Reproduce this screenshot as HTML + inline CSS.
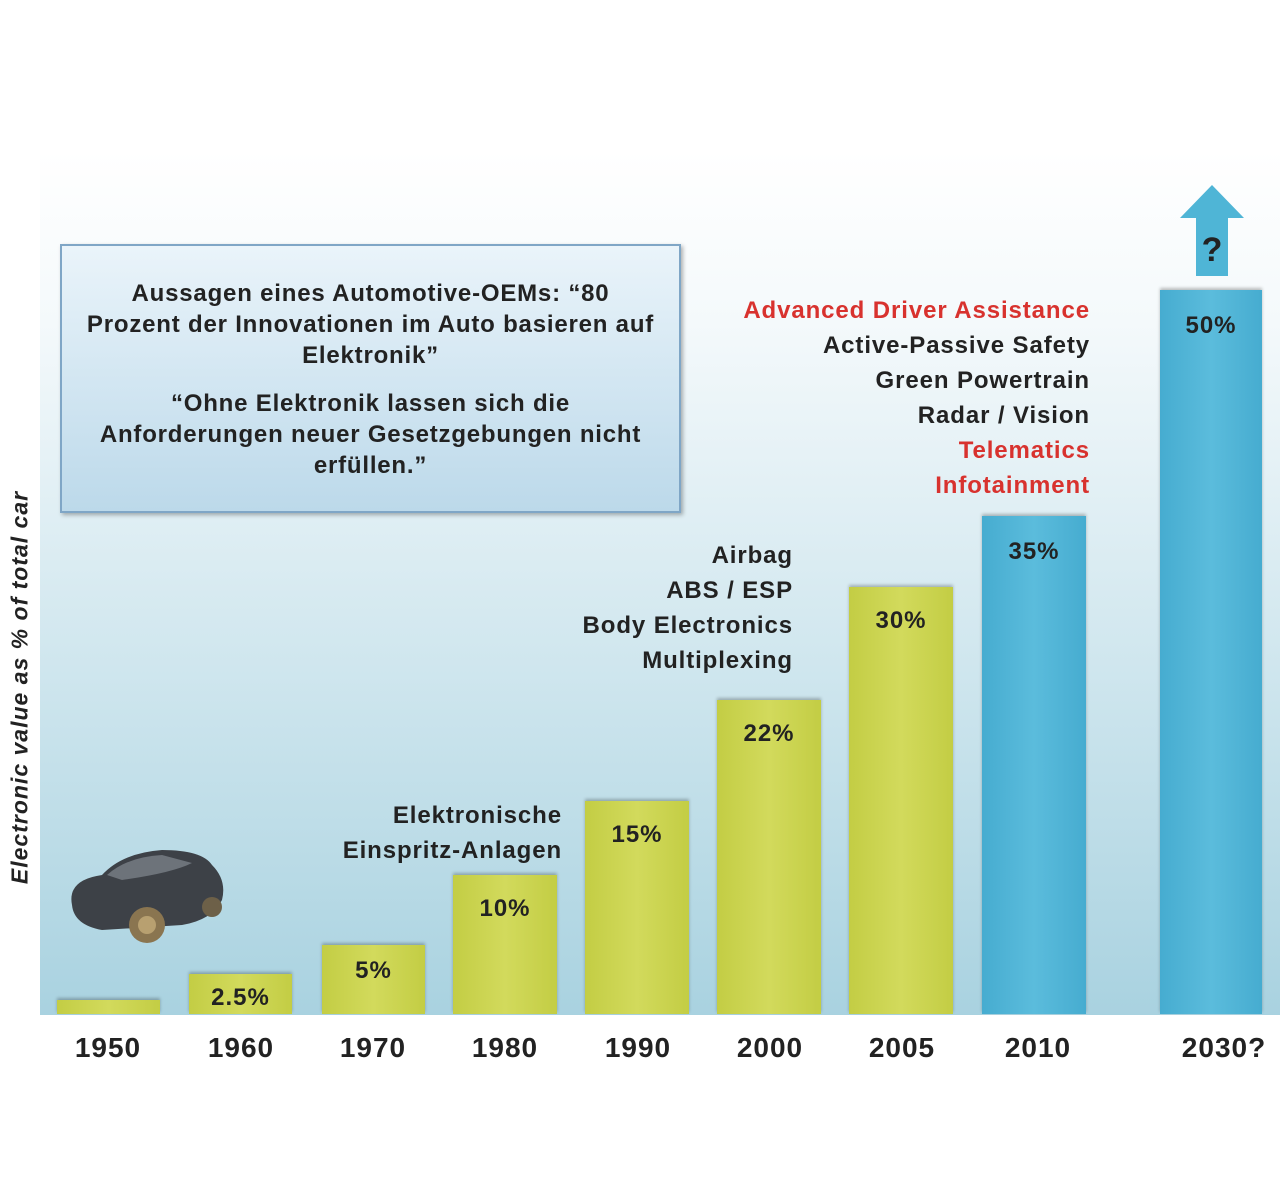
<!DOCTYPE html>
<html><head><meta charset="utf-8"><style>
body{margin:0;width:1280px;height:1190px;background:#fff;position:relative;overflow:hidden;font-family:"Liberation Sans",sans-serif;font-weight:bold;color:#222}
.bg{position:absolute;left:40px;top:150px;width:1240px;height:865px;background:linear-gradient(#fff 0%,#f4f9fb 20%,#cfe6ee 60%,#a9d2e0 100%)}
.b{position:absolute;bottom:176px;background:linear-gradient(90deg,#c3cd44,#d2da5c 50%,#c3cd44);box-shadow:0 -2px 3px rgba(0,0,0,.25);text-align:center;font-size:24px;letter-spacing:1px;padding-top:12px;box-sizing:border-box}
.bl{background:linear-gradient(90deg,#46acd0,#5bbcdc 50%,#46acd0)}
.y{position:absolute;top:1032px;font-size:28px;letter-spacing:1px;width:120px;text-align:center}
.t{position:absolute;font-size:24px;letter-spacing:0.9px;text-align:right;line-height:35px}
.r{color:#d8322e}
</style></head><body>
<div class="bg"></div>
<div style="position:absolute;left:60px;top:244px;width:621px;height:269px;border:2px solid #7fa6c6;background:linear-gradient(#eaf4fa,#bcd9ea);box-shadow:2px 2px 4px rgba(0,0,0,.3);text-align:center;font-size:24px;letter-spacing:0.8px;line-height:31px;padding-top:32px;box-sizing:border-box;white-space:nowrap">Aussagen eines Automotive-OEMs: “80<br>Prozent der Innovationen im Auto basieren auf<br>Elektronik”<div style="height:17px"></div>“Ohne Elektronik lassen sich die<br>Anforderungen neuer Gesetzgebungen nicht<br>erfüllen.”</div>
<div style="position:absolute;left:-200px;top:674px;width:440px;transform:rotate(-90deg);text-align:center;font-style:italic;font-size:23px;letter-spacing:1px">Electronic value as % of total car</div>
<svg style="position:absolute;left:62px;top:845px" width="170" height="110"><path d="M10 60 Q5 35 40 30 Q60 8 100 5 Q140 5 150 20 Q165 35 160 55 Q150 75 120 80 L40 85 Q12 80 10 60Z" fill="#3d4147"/><path d="M45 30 Q65 12 100 10 L130 18 Q110 28 60 35Z" fill="#6d737a"/><circle cx="85" cy="80" r="18" fill="#8a7550"/><circle cx="85" cy="80" r="9" fill="#b8a070"/><circle cx="150" cy="62" r="10" fill="#6d6048"/></svg>
<div class="b" style="left:57px;width:103px;height:14px"></div>
<div class="b" style="left:189px;width:103px;height:40px;padding-top:10px">2.5%</div>
<div class="b" style="left:322px;width:103px;height:69px">5%</div>
<div class="b" style="left:453px;width:104px;height:139px;padding-top:20px">10%</div>
<div class="b" style="left:585px;width:104px;height:213px;padding-top:20px">15%</div>
<div class="b" style="left:717px;width:104px;height:314px;padding-top:20px">22%</div>
<div class="b" style="left:849px;width:104px;height:427px;padding-top:20px">30%</div>
<div class="b bl" style="left:982px;width:104px;height:498px;padding-top:22px">35%</div>
<div class="b bl" style="left:1160px;width:102px;height:724px;padding-top:22px">50%</div>
<svg style="position:absolute;left:1178px;top:184px" width="68" height="94"><polygon points="34,1 66,34 50,34 50,92 18,92 18,34 2,34" fill="#4fb5d6"/><text x="34" y="77" text-anchor="middle" font-family="Liberation Sans" font-weight="bold" font-size="34" fill="#222">?</text></svg>
<div class="y" style="left:48px">1950</div><div class="y" style="left:181px">1960</div><div class="y" style="left:313px">1970</div><div class="y" style="left:445px">1980</div><div class="y" style="left:578px">1990</div><div class="y" style="left:710px">2000</div><div class="y" style="left:842px">2005</div><div class="y" style="left:978px">2010</div><div class="y" style="left:1164px">2030?</div>
<div class="t" style="right:718px;top:798px">Elektronische<br>Einspritz-Anlagen</div>
<div class="t" style="right:487px;top:538px">Airbag<br>ABS / ESP<br>Body Electronics<br>Multiplexing</div>
<div class="t" style="right:190px;top:293px"><span class="r">Advanced Driver Assistance</span><br>Active-Passive Safety<br>Green Powertrain<br>Radar / Vision<br><span class="r">Telematics</span><br><span class="r">Infotainment</span></div>
</body></html>
